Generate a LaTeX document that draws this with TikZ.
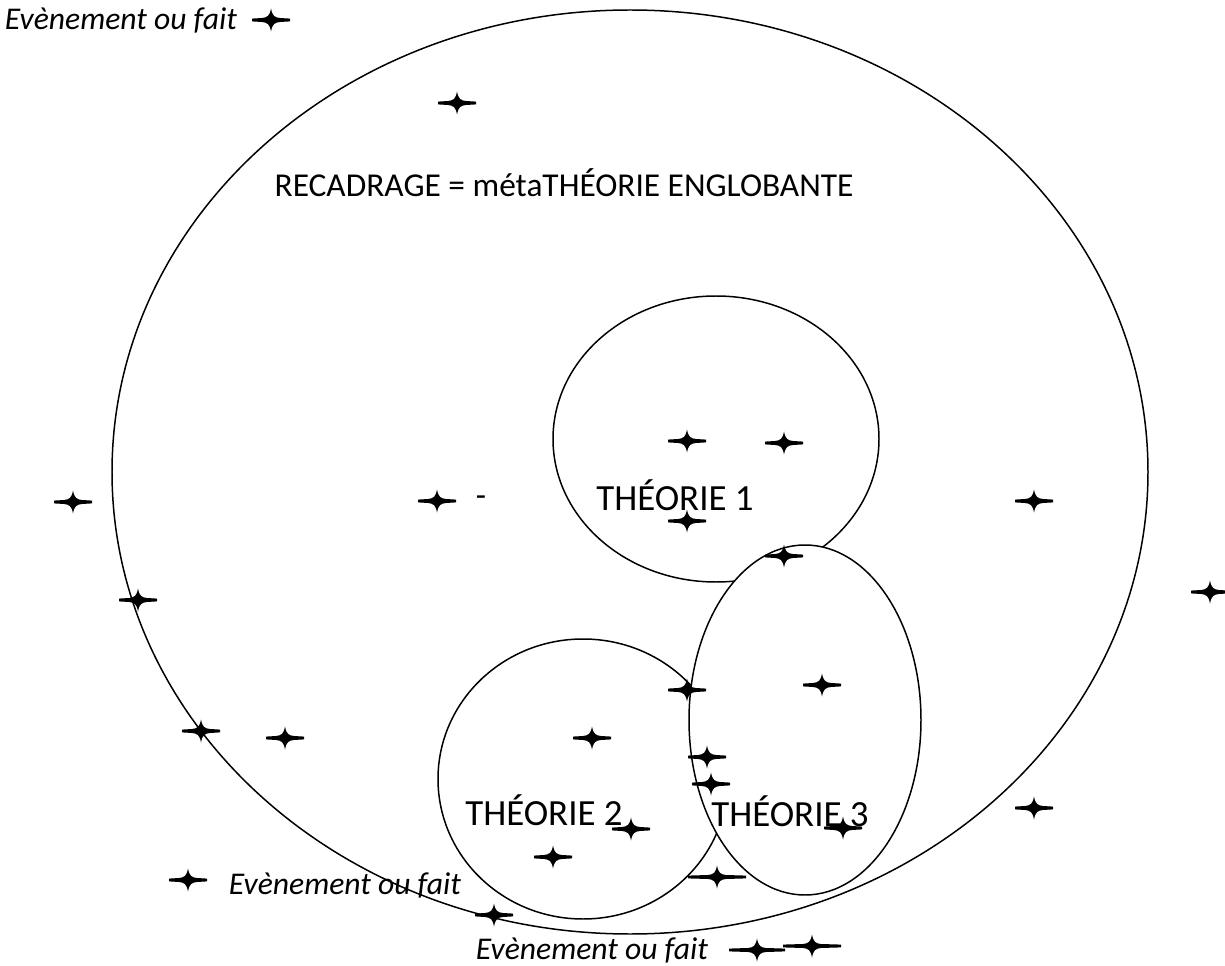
\documentclass[tikz,border=0pt]{standalone}
\usepackage{fontspec}
\setmainfont{Carlito}
\tikzset{
  font=\fontsize{19}{22}\selectfont,
  contour/.style={draw=black,line width=0.85pt},
  theorie/.style={inner sep=0pt,anchor=center,font=\fontsize{21}{24}\selectfont},
  fait/.style={inner sep=0pt,anchor=center,font=\fontsize{18}{22}\selectfont\itshape},
  pics/etoile/.style={code={
    \fill (0,11.5) .. controls (1.4,4) and (3.5,2.6) .. (9,2) -- (#1,1.4) -- (#1,-1.4)
      -- (9,-2) .. controls (3.5,-2.6) and (1.4,-4) .. (0,-11.5)
      .. controls (-1.4,-4) and (-3.5,-2.6) .. (-9,-2) -- (-#1,-1.4) -- (-#1,1.4)
      -- (-9,2) .. controls (-3.5,2.6) and (-1.4,4) .. cycle;
  }},
  pics/etoile/.default=19,
}

\begin{document}
\begin{tikzpicture}[x=0.02cm,y=-0.02cm]
\useasboundingbox (0,0) rectangle (1225,966);

% les theories
\draw[contour] (630,472) ellipse [x radius=518,y radius=462];
\draw[contour] (716,439) ellipse [x radius=163,y radius=143];
\draw[contour] (583,779) ellipse [x radius=145,y radius=140];
\draw[contour,fill=white] (805,720) ellipse [x radius=116,y radius=175];

\node[inner sep=0pt] (meta) at (564,183) {RECADRAGE = métaTHÉORIE ENGLOBANTE};
\node[theorie] (t1) at (675,495) {THÉORIE 1};
\node[theorie] (t2) at (544,810) {THÉORIE 2};
\node[theorie] (t3) at (790,811) {THÉORIE 3};
\node[inner sep=0pt] (tiret) at (481,501) {-};

\node[fait] (fait1) at (121,20) {Evènement ou fait};
\node[fait] (fait2) at (345,885) {Evènement ou fait};
\node[fait] (fait3) at (592,950) {Evènement ou fait};

% evenements
\foreach \x/\y in {271/20, 457/103, 687/441, 784/443, 73/502, 437/501, 687/521,
  1034/501, 784/556, 1210/592, 138/600, 687/690, 822/685, 201/731, 285/738,
  592/738, 707/757, 711/784, 631/829, 843/828, 1034/808, 553/857, 188/880,
  494/915}
  \pic at (\x,\y) {etoile};
\pic at (717,877) {etoile=29};
\pic at (757,950) {etoile=28};
\pic at (812,946) {etoile=29};

\end{tikzpicture}
\end{document}
